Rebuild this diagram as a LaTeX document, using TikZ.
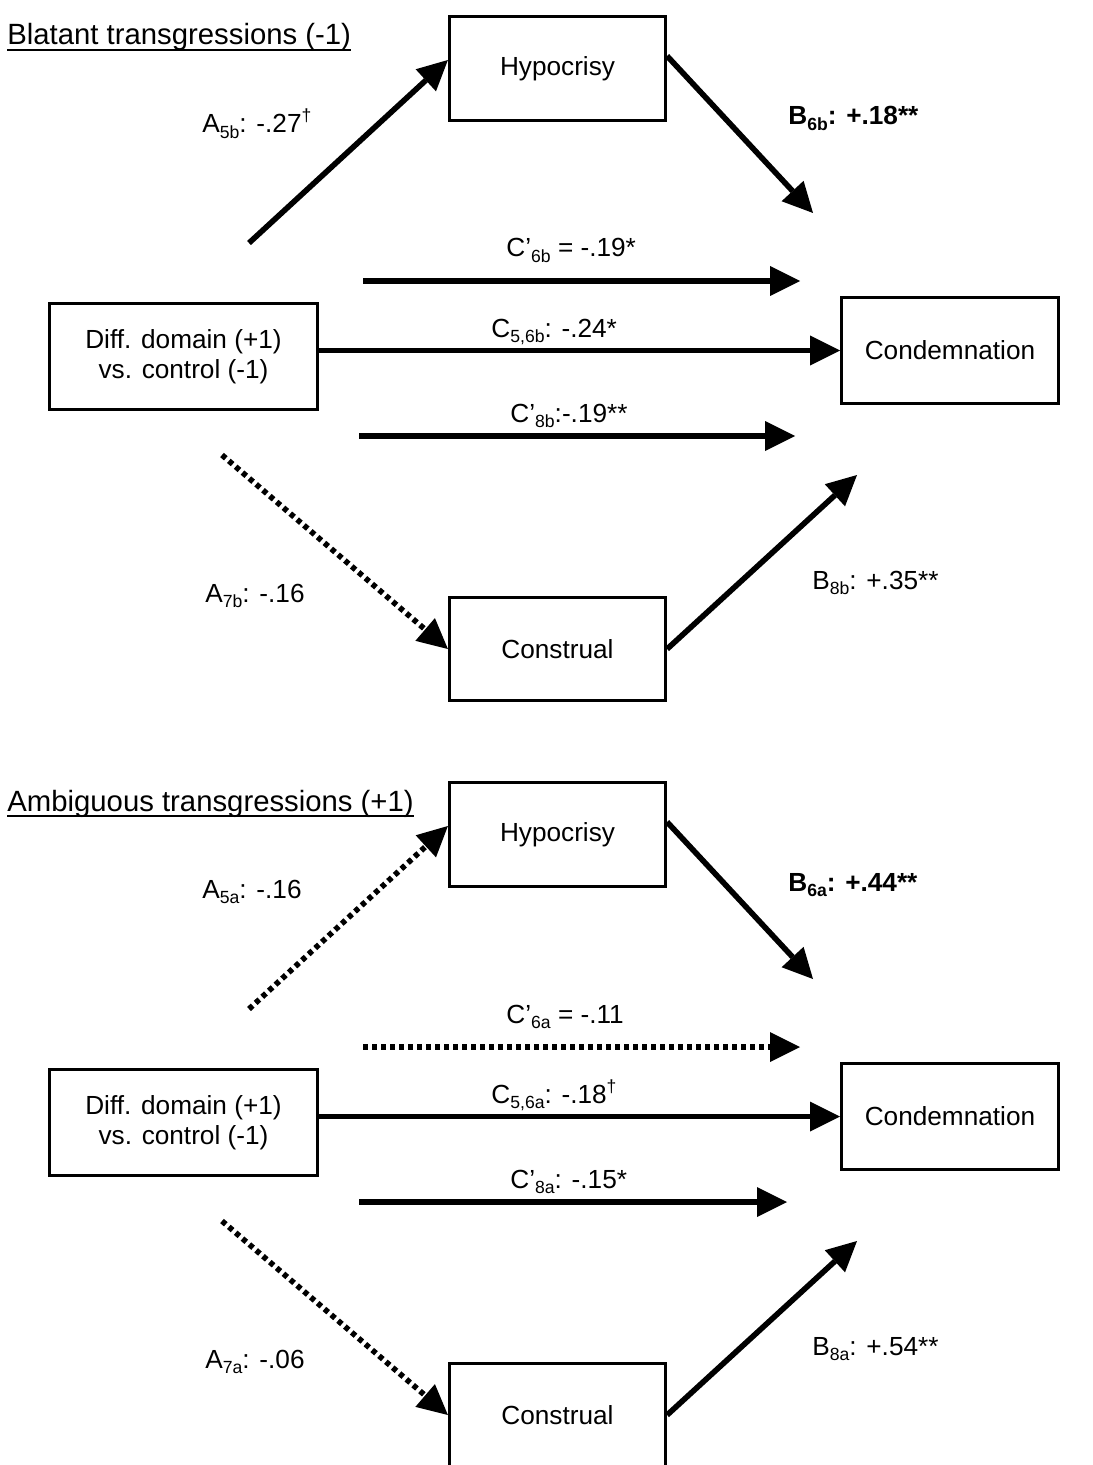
\documentclass[tikz,border=0pt]{standalone}
\usepackage{fontspec}
\setmainfont{Liberation Sans}
\usetikzlibrary{arrows.meta}
\newcommand\lsub[1]{\raisebox{-0.22em}{\fontsize{8.8}{9}\selectfont #1}}
\newcommand\ldag{\raisebox{0.42em}{\fontsize{8.8}{9}\selectfont †}}
\begin{document}
\begin{tikzpicture}[x=0.5pt,y=-0.5pt,
  box/.style={draw,line width=1.6pt,inner sep=0pt,align=center,font=\fontsize{13.1}{15}\selectfont},
  lab/.style={anchor=base west,inner sep=0pt,font=\fontsize{13.1}{15}\selectfont},
  ttl/.style={anchor=base west,inner sep=0pt,font=\fontsize{14.65}{17}\selectfont},
  arr/.style={line width=2.8pt,-{Triangle[length=15pt,width=15pt,line width=0pt]}},
  dotarr/.style={arr,dash pattern=on 2.5pt off 2pt},
  uline/.style={line width=0.7pt}]
\useasboundingbox (0,0) rectangle (1092,1465);

% ---------------- top panel ----------------
\node[ttl] (t1) at (7,45) {Blatant transgressions (-1)};
\draw[uline] ([yshift=-2.5pt]t1.base west) -- ([yshift=-2.5pt]t1.base east);

\node[box,minimum width=108pt,minimum height=52pt] (hyp1) at (557.5,68.5) {Hypocrisy};
\node[box,minimum width=133.9pt,minimum height=52.9pt] (diff1) at (183.5,356.5) {Diff. domain (+1)\\vs. control (-1)};
\node[box,minimum width=108.4pt,minimum height=52.9pt] (cond1) at (950,350.5) {Condemnation};
\node[box,minimum width=108pt,minimum height=51.4pt] (cons1) at (557.5,649) {Construal};

\coordinate (a5s1) at (249,243);
\coordinate (b6e1) at (813,213);
\coordinate (c6s1) at (363,281);
\coordinate (c6e1) at (800,281);
\coordinate (c8s1) at (359,436);
\coordinate (c8e1) at (795,436);
\coordinate (a7s1) at (222,455);
\coordinate (b8e1) at (857,475);

\draw[arr] (a5s1) -- ([yshift=4.25pt]hyp1.west);
\draw[arr] ([yshift=6.25pt]hyp1.east) -- (b6e1);
\draw[arr] (c6s1) -- (c6e1);
\draw[arr] (diff1.east |- cond1.west) -- (cond1.west);
\draw[arr] (c8s1) -- (c8e1);
\draw[dotarr] (a7s1) -- (cons1.west);
\draw[arr] (cons1.east) -- (b8e1);

\node[lab] (la5b) at (202,133) {A\lsub{5b}: -.27\ldag};
\node[lab,font=\fontsize{13.1}{15}\selectfont\bfseries] (lb6b) at (788,125) {B\lsub{6b}: +.18**};
\node[lab] (lc6b) at (506,257) {C’\lsub{6b} = -.19*};
\node[lab] (lc56b) at (491,337) {C\lsub{5,6b}: -.24*};
\node[lab] (lc8b) at (510,422) {C’\lsub{8b}:-.19**};
\node[lab] (la7b) at (205,602) {A\lsub{7b}: -.16};
\node[lab] (lb8b) at (812,589) {B\lsub{8b}: +.35**};

% ---------------- bottom panel ----------------
\node[ttl] (t2) at (7,811) {Ambiguous transgressions (+1)};
\draw[uline] ([yshift=-2.5pt]t2.base west) -- ([yshift=-2.5pt]t2.base east);

\node[box,minimum width=108pt,minimum height=52pt] (hyp2) at (557.5,834.5) {Hypocrisy};
\node[box,minimum width=133.9pt,minimum height=52.9pt] (diff2) at (183.5,1122.5) {Diff. domain (+1)\\vs. control (-1)};
\node[box,minimum width=108.4pt,minimum height=52.9pt] (cond2) at (950,1116.5) {Condemnation};
\node[box,minimum width=108pt,minimum height=51.4pt] (cons2) at (557.5,1415) {Construal};

\coordinate (a5s2) at (249,1009);
\coordinate (b6e2) at (813,979);
\coordinate (c6s2) at (363,1047);
\coordinate (c6e2) at (800,1047);
\coordinate (c8s2) at (359,1202);
\coordinate (c8e2) at (787,1202);
\coordinate (a7s2) at (222,1221);
\coordinate (b8e2) at (857,1241);

\draw[dotarr] (a5s2) -- ([yshift=4.25pt]hyp2.west);
\draw[arr] ([yshift=6.25pt]hyp2.east) -- (b6e2);
\draw[dotarr] (c6s2) -- (c6e2);
\draw[arr] (diff2.east |- cond2.west) -- (cond2.west);
\draw[arr] (c8s2) -- (c8e2);
\draw[dotarr] (a7s2) -- (cons2.west);
\draw[arr] (cons2.east) -- (b8e2);

\node[lab] (la5a) at (202,898) {A\lsub{5a}: -.16};
\node[lab,font=\fontsize{13.1}{15}\selectfont\bfseries] (lb6a) at (788,891) {B\lsub{6a}: +.44**};
\node[lab] (lc6a) at (506,1023) {C’\lsub{6a} = -.11};
\node[lab] (lc56a) at (491,1103) {C\lsub{5,6a}: -.18\ldag};
\node[lab] (lc8a) at (510,1188) {C’\lsub{8a}: -.15*};
\node[lab] (la7a) at (205,1368) {A\lsub{7a}: -.06};
\node[lab] (lb8a) at (812,1355) {B\lsub{8a}: +.54**};
\end{tikzpicture}
\end{document}
